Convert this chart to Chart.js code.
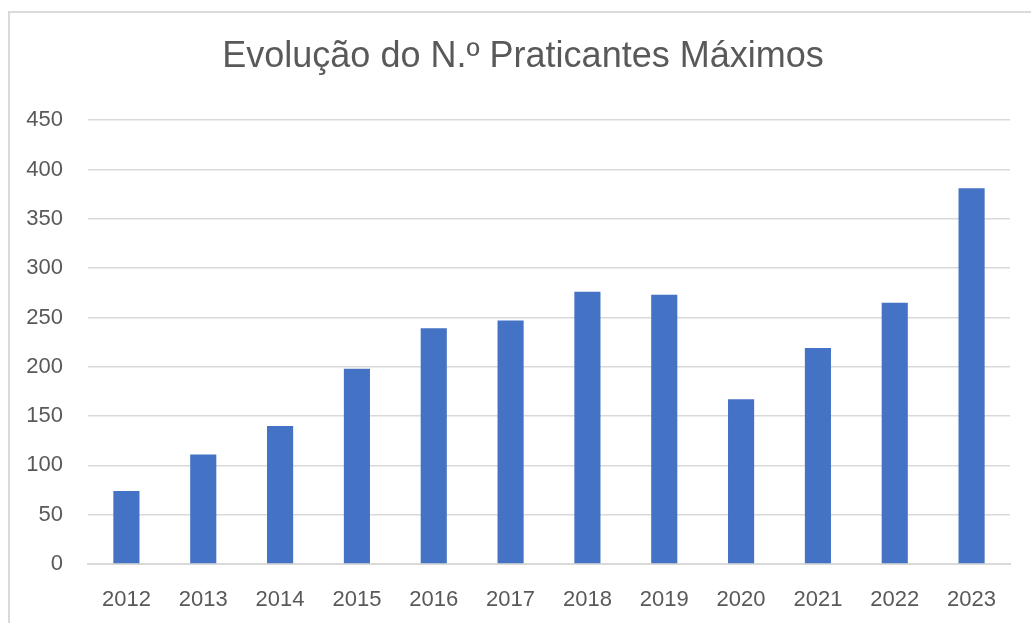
<!DOCTYPE html>
<html>
<head>
<meta charset="utf-8">
<script src="https://cdn.jsdelivr.net/npm/chart.js@4"></script>
<style>
  html, body { margin: 0; padding: 0; background: #fff; overflow: hidden; }
  #moldura { position: absolute; left: 8px; top: 11px; width: 1200px; height: 800px; border: 2px solid #d9d9d9; }
  #grafico { position: absolute; left: 0; top: 0; }
</style>
</head>
<body>
<div id="moldura"></div>
<canvas id="grafico" width="1031" height="623"></canvas>
<script>
// dados
const anos = ["2012", "2013", "2014", "2015", "2016", "2017", "2018", "2019", "2020", "2021", "2022", "2023"];
const praticantes = [74, 111, 140, 198, 239, 247, 276, 273, 167, 219, 265, 381];
const titulo = "Evolução do N.º Praticantes Máximos";

const cinza = "#595959";
const linhas = "#d9d9d9";

// o título do original está um pouco à direita do centro do canvas
const moverTitulo = {
    id: "moverTitulo",
    afterLayout(chart) {
        if (chart.titleBlock) {
            chart.titleBlock.left += 18;
            chart.titleBlock.right += 18;
        }
    }
};

const ctx = document.getElementById("grafico").getContext("2d");
new Chart(ctx, {
    type: "bar",
    data: {
        labels: anos,
        datasets: [{
            label: "Praticantes",
            data: praticantes,
            backgroundColor: "#4472C4",
            borderWidth: 0,
            categoryPercentage: 1,
            barPercentage: 0.34
        }]
    },
    plugins: [moverTitulo],
    options: {
        responsive: false,
        animation: false,
        layout: { padding: { left: 0, right: 21, top: 0, bottom: 0 } },
        plugins: {
            legend: { display: false },
            tooltip: { enabled: false },
            title: {
                display: true,
                text: titulo,
                color: cinza,
                font: { family: "Liberation Sans", size: 36, weight: "normal" },
                padding: { top: 35, bottom: 42 }
            }
        },
        scales: {
            x: {
                grid: { display: false, drawTicks: false },
                border: { display: true, color: linhas, width: 2 },
                ticks: {
                    color: cinza,
                    font: { family: "Liberation Sans", size: 22 },
                    padding: 23,
                    maxRotation: 0
                },
                afterFit: (escala) => { escala.height = 59; }
            },
            y: {
                min: 0,
                max: 450,
                grid: { color: linhas, lineWidth: 1.5, drawTicks: false },
                border: { display: false },
                ticks: {
                    stepSize: 50,
                    color: cinza,
                    font: { family: "Liberation Sans", size: 22 },
                    padding: 25
                },
                afterFit: (escala) => { escala.width = 88; }
            }
        }
    }
});
</script>
</body>
</html>
